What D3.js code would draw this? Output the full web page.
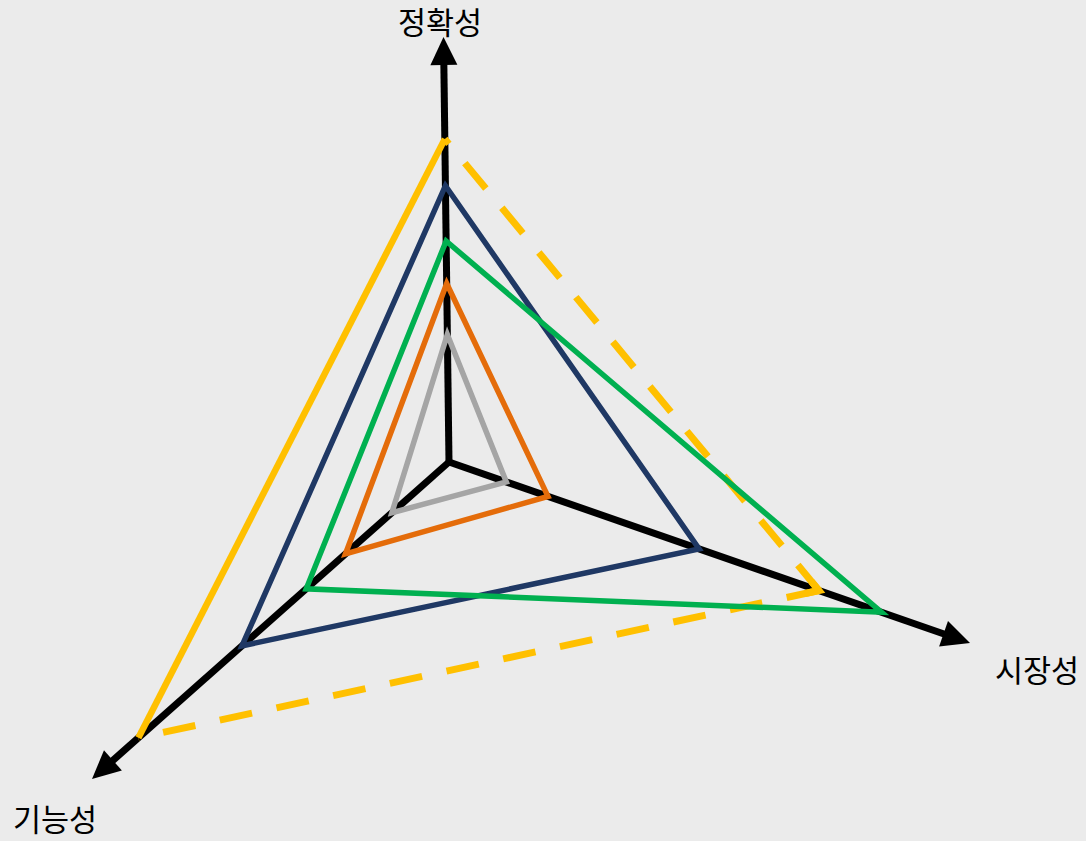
<!DOCTYPE html>
<html>
<head>
<meta charset="utf-8">
<script src="https://cdn.jsdelivr.net/npm/d3@7"></script>
<style>
  html, body { margin: 0; padding: 0; background: #EBEBEB; }
  svg { display: block; }
  text { font-family: "Noto Sans CJK KR", "Noto Sans", sans-serif; fill: #000; }
</style>
</head>
<body>
<svg id="chart" width="1086" height="841"></svg>
<script>
// ---- data ----
const axes = ["정확성", "시장성", "기능성"];
const seriesNames = ["yellow", "navy", "green", "orange", "gray"];
const accuracy = [76, 65, 52, 42, 30];   // 정확성
const market   = [71, 48, 83, 19, 11];   // 시장성
const functionality = [87, 58, 40, 29, 16]; // 기능성

// ---- layout / style ----
const W = 1086, H = 841;
const origin = [449, 462];
const axisTips = [[443.5, 37], [970, 643], [92, 779]];
const labelPos = [[440, 21], [1037, 669], [55, 818]];
const colors = { yellow: "#FFC000", navy: "#1F3864", green: "#00B050", orange: "#E46C0A", gray: "#A5A5A5" };
const widths = { yellow: 6.5, navy: 5.5, green: 5.5, orange: 5.5, gray: 5.5 };

const svg = d3.select("#chart");
svg.append("rect").attr("width", W).attr("height", H).attr("fill", "#EBEBEB");

// per-axis direction and scale
const axisInfo = axisTips.map(t => {
  const dx = t[0] - origin[0], dy = t[1] - origin[1];
  const len = Math.hypot(dx, dy);
  return { ux: dx / len, uy: dy / len, len, scale: d3.scaleLinear().domain([0, 100]).range([0, len]) };
});
function pt(axisIdx, v) {
  const a = axisInfo[axisIdx];
  const r = a.scale(v);
  return [origin[0] + a.ux * r, origin[1] + a.uy * r];
}

// axes with arrowheads
const headLen = 28, headHalf = 13.5;
const gAxes = svg.append("g");
axisInfo.forEach((a, i) => {
  const base = [origin[0] + a.ux * (a.len - headLen), origin[1] + a.uy * (a.len - headLen)];
  gAxes.append("line")
    .attr("x1", origin[0]).attr("y1", origin[1])
    .attr("x2", base[0] + a.ux * 2).attr("y2", base[1] + a.uy * 2)
    .attr("stroke", "#000").attr("stroke-width", 7);
  const px = -a.uy, py = a.ux;
  const tri = [axisTips[i], [base[0] + px * headHalf, base[1] + py * headHalf], [base[0] - px * headHalf, base[1] - py * headHalf]];
  gAxes.append("path").attr("d", d3.line()(tri) + "Z").attr("fill", "#000");
});

// labels
axes.forEach((name, i) => {
  svg.append("text")
    .attr("x", labelPos[i][0]).attr("y", labelPos[i][1])
    .attr("text-anchor", "middle")
    .attr("dominant-baseline", "central")
    .attr("font-size", 30.5)
    .text(name);
});

// series polygons
const gSeries = svg.append("g");
seriesNames.forEach((s, k) => {
  const pts = [pt(0, accuracy[k]), pt(1, market[k]), pt(2, functionality[k])];
  if (s === "yellow") {
    // solid side: 기능성 -> 정확성
    gSeries.append("path").attr("d", d3.line()([pts[2], pts[0]]))
      .attr("fill", "none").attr("stroke", colors[s]).attr("stroke-width", widths[s]);
    // dashed sides
    const dash = 33, gap = 25;
    const segA = gSeries.append("path").attr("d", d3.line()([pts[0], pts[1]]))
      .attr("fill", "none").attr("stroke", colors[s]).attr("stroke-width", 7);
    const L1 = segA.node().getTotalLength();
    const off = (((dash - L1) % (dash + gap)) + (dash + gap)) % (dash + gap);
    segA.attr("stroke-dasharray", dash + "," + gap).attr("stroke-dashoffset", off);
    gSeries.append("path").attr("d", d3.line()([pts[1], pts[2]]))
      .attr("fill", "none").attr("stroke", colors[s]).attr("stroke-width", 7)
      .attr("stroke-dasharray", dash + "," + gap);
    // corner join at 시장성 vertex
    gSeries.append("path").attr("d", d3.line()([
        [pts[1][0] + (pts[0][0]-pts[1][0]) * 0.02, pts[1][1] + (pts[0][1]-pts[1][1]) * 0.02],
        pts[1],
        [pts[1][0] + (pts[2][0]-pts[1][0]) * 0.02, pts[1][1] + (pts[2][1]-pts[1][1]) * 0.02]]))
      .attr("fill", "none").attr("stroke", colors[s]).attr("stroke-width", 7)
      .attr("stroke-linejoin", "miter");
  } else {
    gSeries.append("path").attr("d", d3.line()(pts) + "Z")
      .attr("fill", "none").attr("stroke", colors[s]).attr("stroke-width", widths[s])
      .attr("stroke-linejoin", "miter");
  }
});
</script>
</body>
</html>
